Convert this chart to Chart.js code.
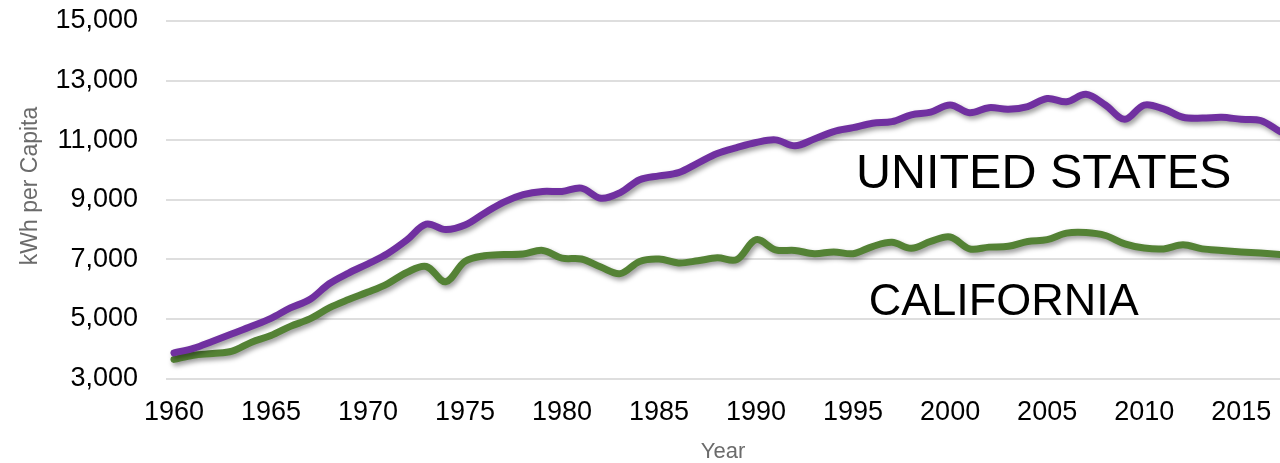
<!DOCTYPE html>
<html>
<head>
<meta charset="utf-8">
<script src="https://cdn.jsdelivr.net/npm/chart.js@4.4.0/dist/chart.umd.min.js"></script>
<style>
html,body{margin:0;padding:0;background:#fff;overflow:hidden}
#wrap{width:1280px;height:463px;position:relative}
</style>
</head>
<body>
<div id="wrap"><canvas id="c"></canvas></div>
<script>
const years = [1960,1961,1962,1963,1964,1965,1966,1967,1968,1969,
  1970,1971,1972,1973,1974,1975,1976,1977,1978,1979,
  1980,1981,1982,1983,1984,1985,1986,1987,1988,1989,
  1990,1991,1992,1993,1994,1995,1996,1997,1998,1999,
  2000,2001,2002,2003,2004,2005,2006,2007,2008,2009,
  2010,2011,2012,2013,2014,2015,2016,2017];
const unitedStates = [3860,4010,4250,4500,4750,5020,5370,5650,6180,6540,
  6850,7190,7650,8180,8000,8150,8550,8920,9170,9280,
  9280,9390,9050,9240,9670,9800,9910,10230,10550,10750,
  10920,11010,10810,11040,11290,11420,11570,11620,11850,11940,
  12180,11920,12090,12040,12130,12400,12290,12540,12180,11700,
  12180,12050,11770,11740,11770,11700,11660,11290];
const california = [3640,3780,3840,3920,4220,4440,4750,5000,5370,5650,
  5900,6180,6560,6760,6250,6930,7120,7160,7180,7300,
  7040,7010,6740,6520,6930,7010,6880,6950,7050,6990,
  7660,7320,7300,7190,7250,7190,7430,7570,7370,7600,
  7750,7350,7410,7440,7600,7660,7880,7900,7800,7520,
  7380,7350,7490,7350,7300,7250,7210,7160];
const xTickYears = [1960,1965,1970,1975,1980,1985,1990,1995,2000,2005,2010,2015];
const yTickValues = [3000,5000,7000,9000,11000,13000,15000];
const seriesNames = ['UNITED STATES','CALIFORNIA'];
const yAxisTitle = 'kWh per Capita';
const xAxisTitle = 'Year';

const FONT = "'Liberation Sans', Arial, sans-serif";

const shadowPlugin = {
  id: 'lineShadow',
  beforeDatasetsDraw(chart) {
    const c = chart.ctx;
    c.save();
    c.shadowColor = 'rgba(0,0,0,0.4)';
    c.shadowBlur = 5;
    c.shadowOffsetX = 2;
    c.shadowOffsetY = 3;
  },
  afterDatasetsDraw(chart) { chart.ctx.restore(); }
};

const textPlugin = {
  id: 'extraText',
  afterDraw(chart, args, opts) {
    const {ctx, scales} = chart;
    ctx.save();
    ctx.fillStyle = '#000';
    ctx.textAlign = 'center';
    ctx.textBaseline = 'alphabetic';
    opts.items.forEach(it => {
      ctx.font = it.size + 'px ' + FONT;
      ctx.fillText(it.text, scales.x.getPixelForValue(it.x), scales.y.getPixelForValue(it.y));
    });
    ctx.restore();
    // y-axis title (rotated), centred as in the source layout
    const t = opts.yTitle;
    ctx.save();
    ctx.translate(t.x, t.y);
    ctx.rotate(-Math.PI / 2);
    ctx.fillStyle = t.color;
    ctx.font = t.size + 'px ' + FONT;
    ctx.textAlign = 'center';
    ctx.textBaseline = 'middle';
    ctx.fillText(t.text, 0, 0);
    ctx.restore();
  }
};

new Chart(document.getElementById('c'), {
  type: 'line',
  data: {
    datasets: [
      {
        label: seriesNames[0],
        data: years.map((yr, i) => ({x: yr, y: unitedStates[i]})),
        borderColor: '#7030A0',
        borderWidth: 7,
        pointRadius: 0,
        tension: 0.35,
        fill: false,
        borderCapStyle: 'round',
        borderJoinStyle: 'round'
      },
      {
        label: seriesNames[1],
        data: years.map((yr, i) => ({x: yr, y: california[i]})),
        borderColor: '#548235',
        borderWidth: 7,
        pointRadius: 0,
        tension: 0.35,
        fill: false,
        borderCapStyle: 'round',
        borderJoinStyle: 'round'
      }
    ]
  },
  options: {
    responsive: true,
    maintainAspectRatio: false,
    animation: false,
    layout: {padding: {top: 21, left: 0, right: 0, bottom: 0}},
    plugins: {
      legend: {display: false},
      tooltip: {enabled: false},
      extraText: {
        items: [
          {text: seriesNames[0], x: 2004.82, y: 9385, size: 48.5},
          {text: seriesNames[1], x: 2002.76, y: 5132, size: 45}
        ],
        yTitle: {text: yAxisTitle, x: 30.5, y: 186, size: 23, color: '#6b6b6b'}
      }
    },
    scales: {
      x: {
        type: 'linear',
        min: 1959.59,
        max: 2017.0,
        afterBuildTicks(scale) { scale.ticks = xTickYears.map(v => ({value: v})); },
        afterFit(scale) { scale.height = 84.5; scale.paddingLeft = 0; scale.paddingRight = 0; },
        grid: {display: false, drawTicks: false},
        border: {display: false},
        ticks: {
          padding: 18,
          maxRotation: 0,
          autoSkip: false,
          color: '#000',
          font: {family: FONT, size: 27},
          callback: v => String(v)
        },
        title: {
          display: true,
          text: xAxisTitle,
          color: '#6b6b6b',
          font: {family: FONT, size: 22, lineHeight: 1},
          padding: {top: 0, bottom: 0}
        }
      },
      y: {
        min: 3000,
        max: 15000,
        afterBuildTicks(scale) { scale.ticks = yTickValues.map(v => ({value: v})); },
        afterFit(scale) { scale.width = 166; scale.paddingTop = 0; scale.paddingBottom = 0; },
        grid: {color: '#dedede', lineWidth: 2, drawTicks: false},
        border: {display: false},
        ticks: {
          padding: 28,
          color: '#000',
          font: {family: FONT, size: 27},
          callback: v => v.toLocaleString('en-US')
        },
        title: {display: false}
      }
    }
  },
  plugins: [shadowPlugin, textPlugin]
});
</script>
</body>
</html>
